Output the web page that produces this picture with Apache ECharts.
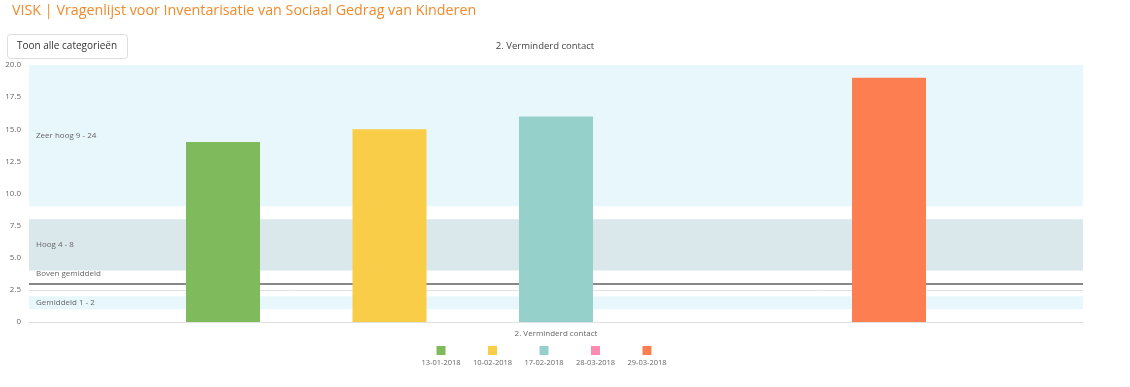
<!DOCTYPE html>
<html>
<head>
<meta charset="utf-8">
<script src="https://cdn.jsdelivr.net/npm/echarts@6/dist/echarts.min.js"></script>
<style>
html,body{margin:0;padding:0;background:#fff;}
#c{width:1130px;height:387px;}
</style>
</head>
<body>
<div id="c"></div>
<script>
var pageTitle = 'VISK | Vragenlijst voor Inventarisatie van Sociaal Gedrag van Kinderen';
var buttonText = 'Toon alle categorieën';
var chartTitle = '2. Verminderd contact';
var categories = ['2. Verminderd contact'];
var seriesNames = ['13-01-2018', '10-02-2018', '17-02-2018', '28-03-2018', '29-03-2018'];
var seriesValues = [14, 15, 16, null, 19];
var seriesColors = ['#7fba5c', '#f9cd48', '#95d0cb', '#fd8bb0', '#fd7f51'];
var bands = [
  {name: 'Zeer hoog 9 - 24', from: 9, to: 24, color: '#e8f7fb'},
  {name: 'Hoog 4 - 8', from: 4, to: 8, color: '#dae8ec'},
  {name: 'Gemiddeld 1 - 2', from: 1, to: 2, color: '#e8f7fb'}
];
var thresholdLine = {name: 'Boven gemiddeld', value: 3};
var yMin = 0, yMax = 20, yInterval = 2.5;

var chart = echarts.init(document.getElementById('c'));

var series = seriesNames.map(function (n, i) {
  return {
    name: n,
    type: 'bar',
    z: 10,
    barWidth: 74,
    barGap: '125%',
    itemStyle: {color: seriesColors[i]},
    data: [seriesValues[i] === null ? '-' : seriesValues[i]]
  };
});

series.push({
  type: 'line',
  name: '_bands',
  z: 1,
  data: [],
  silent: true,
  markArea: {
    silent: true,
    z: 1,
    label: {position: 'insideLeft', color: '#666', fontSize: 8, distance: 7, fontFamily: 'Open Sans'},
    data: bands.map(function (b) {
      return [
        {yAxis: b.from, name: b.name, itemStyle: {color: b.color}},
        {yAxis: Math.min(b.to, yMax)}
      ];
    })
  },
  markLine: {
    silent: true,
    z: 2,
    symbol: 'none',
    lineStyle: {color: '#888', width: 2, type: 'solid'},
    label: {position: 'insideStartTop', formatter: thresholdLine.name, color: '#666', fontSize: 8, distance: [7, 6], fontFamily: 'Open Sans'},
    data: [{yAxis: thresholdLine.value}]
  }
});

var legendGraphics = [];
seriesNames.forEach(function (n, i) {
  var cx = 544 + (i - 2) * 51.5;
  legendGraphics.push({type: 'rect', x: cx - 4.5, y: 346, shape: {width: 9, height: 9}, style: {fill: seriesColors[i]}});
  legendGraphics.push({type: 'text', x: cx, y: 363, style: {text: n, fill: '#666', font: '7.5px "Open Sans"', textAlign: 'center', textVerticalAlign: 'middle'}});
});

chart.setOption({
  animation: false,
  textStyle: {fontFamily: 'Open Sans'},
  grid: {left: 29, right: 47, top: 65, bottom: 65},
  xAxis: {
    type: 'category',
    data: categories,
    axisLine: {lineStyle: {color: '#e0e0e0'}},
    axisTick: {show: false},
    axisLabel: {color: '#666', fontSize: 8, margin: 8}
  },
  yAxis: {
    type: 'value',
    min: yMin, max: yMax, interval: yInterval,
    axisLine: {show: false},
    axisTick: {show: false},
    splitLine: {lineStyle: {color: '#e2e2e2'}},
    axisLabel: {
      color: '#666', fontSize: 8, margin: 8,
      formatter: function (v) { return v === 0 ? '0' : v.toFixed(1); }
    }
  },
  graphic: [
    {type: 'text', x: 12, y: 11, style: {text: pageTitle, fill: '#f08a2c', font: '14.3px "Open Sans"', textVerticalAlign: 'middle'}},
    {type: 'rect', x: 7.5, y: 34.5, shape: {width: 120, height: 24, r: 3}, style: {fill: '#fff', stroke: '#dcdcdc', lineWidth: 1}},
    {type: 'text', x: 67, y: 46, style: {text: buttonText, fill: '#333', font: '10px "Open Sans"', textAlign: 'center', textVerticalAlign: 'middle'}},
    {type: 'text', x: 545, y: 46, style: {text: chartTitle, fill: '#444', font: '9.5px "Open Sans"', textAlign: 'center', textVerticalAlign: 'middle'}}
  ].concat(legendGraphics),
  series: series
});
</script>
</body>
</html>
